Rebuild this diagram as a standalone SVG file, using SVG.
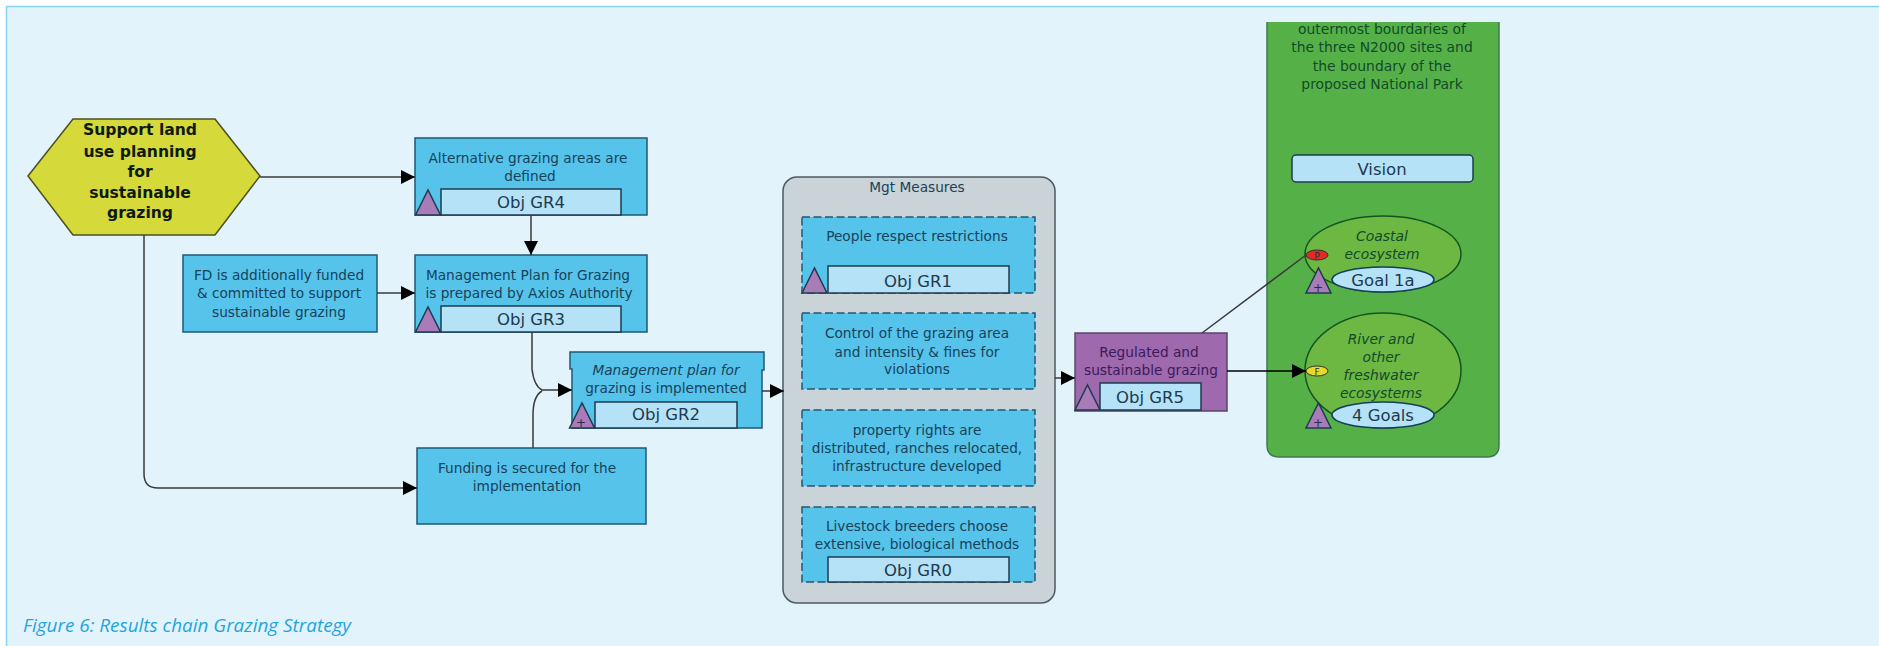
<svg xmlns="http://www.w3.org/2000/svg" width="1879" height="646" viewBox="0 0 1879 646">
<defs>
<marker id="arr" markerUnits="userSpaceOnUse" markerWidth="15" markerHeight="15" refX="14" refY="7.500" orient="auto"><path d="M0,0.500 L14,7.500 L0,14.500 Z" fill="#000"/></marker>
<path id="tri" d="M0,0 L12.500,-25 L25,0 Z" fill="#a97bb8" stroke="#1d3c4e" stroke-width="1.500"/>
</defs>
<style>
text{font-family:"DejaVu Sans","Liberation Sans",sans-serif;fill:#17425a;text-anchor:middle;font-size:13.700px}
.box{fill:#56c3ea;stroke:#1f5a75;stroke-width:1.500}
.dash{stroke-dasharray:8 3.500}
.obj{fill:#b5e2f6;stroke:#1d3c4e;stroke-width:1.500}
.con{fill:none;stroke:#3a3a3a;stroke-width:1.500}
.blk{stroke:#000}
.o{font-size:16.500px;fill:#1d3a50}
.g{fill:#124a2a;font-size:13.900px}
.i{font-style:italic}
.h{font-size:15.600px;font-weight:bold;fill:#0d1a10}
.p{font-size:12px;fill:#2a2a4a}
.goal{fill:#6cb843;stroke:#14551f;stroke-width:1.500}
.goaln{fill:#b5e2f6;stroke:#14405a;stroke-width:1.500}
.v{fill:#3b1a5a}
</style>
<rect width="1879" height="646" fill="#fff"/>
<path d="M1879,6.500 H6.500 V646 H1879 Z" fill="#e3f3fc"/>
<path d="M1879,6.500 H6.500 V646" fill="none" stroke="#86d3f2" stroke-width="1.500"/>
<g id="goal-panel">
<path d="M1267,22 V445 Q1267,457 1279,457 H1487 Q1499,457 1499,445 V22" fill="#55b147" stroke="#3f7a4f" stroke-width="1.500"/>
<text class="g" x="1382" y="34">outermost bourdaries of</text>
<text class="g" x="1382" y="52">the three N2000 sites and</text>
<text class="g" x="1382" y="71">the boundary of the</text>
<text class="g" x="1382" y="89">proposed National Park</text>
</g>
<g id="vision"><rect x="1292" y="155" width="181" height="27" rx="4" fill="#b5e2f6" stroke="#1d3c4e" stroke-width="1.500"/><text x="1382" y="175" class="o">Vision</text></g>
<g id="goal-coastal">
<ellipse class="goal" cx="1383" cy="254" rx="78" ry="38"/>
<text class="g i" x="1382" y="241">Coastal</text>
<text class="g i" x="1382" y="259">ecosystem</text>
<ellipse class="goaln" cx="1383" cy="279.500" rx="51" ry="12.500"/>
<text x="1383" y="286" class="o">Goal 1a</text>
<ellipse cx="1317" cy="255" rx="11" ry="5" fill="#e02a22" stroke="#333"/>
<text class="p" x="1317" y="259" style="font-size:9px">P</text>
<use href="#tri" x="1306" y="293"/>
<text class="p" x="1318" y="292">+</text>
</g>
<g id="goal-river">
<ellipse class="goal" cx="1383" cy="370.500" rx="78" ry="57.500"/>
<text class="g i" x="1381" y="344">River and</text>
<text class="g i" x="1381" y="362">other</text>
<text class="g i" x="1381" y="380">freshwater</text>
<text class="g i" x="1381" y="398">ecosystems</text>
<ellipse class="goaln" cx="1383" cy="415" rx="51" ry="13"/>
<text x="1383" y="421" class="o">4 Goals</text>
<ellipse cx="1317" cy="371" rx="11" ry="5" fill="#e8d82a" stroke="#333"/>
<text class="p" x="1317" y="375" style="font-size:9px">F</text>
<use href="#tri" x="1306" y="428"/>
<text class="p" x="1318" y="427">+</text>
</g>
<g id="strategy">
<path d="M28,176 L73,119 H215 L260,176 L215,235 H73 Z" fill="#d5d93a" stroke="#4a5020" stroke-width="1.500"/>
<text class="h" x="140" y="135">Support land</text>
<text class="h" x="140" y="157">use planning</text>
<text class="h" x="140" y="177">for</text>
<text class="h" x="140" y="198">sustainable</text>
<text class="h" x="140" y="218">grazing</text>
</g>
<g id="gr4"><rect class="box" x="415" y="138" width="232" height="77"/><text x="528" y="163">Alternative grazing areas are</text><text x="530" y="181">defined</text><rect class="obj" x="441" y="189" width="180" height="26"/><use href="#tri" x="415.500" y="215"/><text x="531" y="208" class="o">Obj GR4</text></g>
<g id="gr3"><rect class="box" x="415" y="255" width="232" height="77"/><text x="528" y="280">Management Plan for Grazing</text><text x="529" y="298">is prepared by Axios Authority</text><rect class="obj" x="441" y="306" width="180" height="26"/><use href="#tri" x="415.500" y="332"/><text x="531" y="325" class="o">Obj GR3</text></g>
<g id="fd"><rect class="box" x="183" y="255" width="194" height="77"/><text x="279" y="280">FD is additionally funded</text><text x="279" y="298">&amp; committed to support</text><text x="279" y="317">sustainable grazing</text></g>
<g id="gr2"><path class="box" d="M570,352 H764 V370 H762 V428 H572 V369 H570 Z"/><text class="i" x="666" y="375">Management plan for</text><text x="666" y="393">grazing is implemented</text><rect class="obj" x="595" y="402" width="142" height="26"/><use href="#tri" x="569.500" y="428"/><text class="p" x="581" y="427">+</text><text x="666" y="420" class="o">Obj GR2</text></g>
<g id="funding"><rect class="box" x="417" y="448" width="229" height="76"/><text x="527" y="473">Funding is secured for the</text><text x="527" y="491">implementation</text></g>
<g id="measures">
<rect x="783" y="177" width="272" height="426" rx="14" fill="#c9d3d8" stroke="#4d5a62" stroke-width="1.500"/>
<text x="917" y="192">Mgt Measures</text>
<g id="gr1"><rect class="box dash" x="802" y="217" width="233" height="76"/><text x="917" y="241">People respect restrictions</text><rect class="obj" x="828" y="266" width="181" height="27"/><use href="#tri" x="802" y="293"/><text x="918" y="287" class="o">Obj GR1</text></g>
<g id="control"><rect class="box dash" x="802" y="313" width="233" height="76"/><text x="917" y="338">Control of the grazing area</text><text x="917" y="357">and intensity &amp; fines for</text><text x="917" y="374">violations</text></g>
<g id="property"><rect class="box dash" x="802" y="410" width="233" height="76"/><text x="917" y="435">property rights are</text><text x="917" y="453">distributed, ranches relocated,</text><text x="917" y="471">infrastructure developed</text></g>
<g id="gr0"><rect class="box dash" x="802" y="507" width="233" height="75"/><text x="917" y="531">Livestock breeders choose</text><text x="917" y="549">extensive, biological methods</text><rect class="obj" x="828" y="557" width="181" height="25"/><text x="918" y="576" class="o">Obj GR0</text></g>
</g>
<g id="gr5"><rect x="1075" y="333" width="152" height="78" fill="#9e69ad" stroke="#5a4568" stroke-width="1.500"/><text class="v" x="1149" y="357">Regulated and</text><text class="v" x="1151" y="375">sustainable grazing</text><rect class="obj" x="1100" y="383" width="101" height="27"/><use href="#tri" x="1075" y="410"/><text x="1150" y="403" class="o">Obj GR5</text></g>
<g id="connectors">
<path class="con" marker-end="url(#arr)" d="M260,177 H415"/>
<path class="con" marker-end="url(#arr)" d="M531,215 V255"/>
<path class="con" marker-end="url(#arr)" d="M377,293 H415"/>
<path class="con" marker-end="url(#arr)" d="M144,235 V474 Q144,488 158,488 H417"/>
<path class="con" marker-end="url(#arr)" d="M532,332 V369 Q534,386 542,390 H572"/>
<path class="con" d="M533,448 V415 Q533,396 542,391"/>
<path class="con" marker-end="url(#arr)" d="M762,391 H784"/>
<path class="con" marker-end="url(#arr)" d="M1055,378 H1075"/>
<path class="con" d="M1202,333 L1306,255"/>
<path class="con blk" marker-end="url(#arr)" d="M1227,371 H1306"/>
</g>
<text x="23" y="632" style="text-anchor:start;font-style:italic;font-size:18.900px;fill:#1ea5de;font-family:'Open Sans','Liberation Sans',sans-serif">Figure 6: Results chain Grazing Strategy</text>
</svg>
